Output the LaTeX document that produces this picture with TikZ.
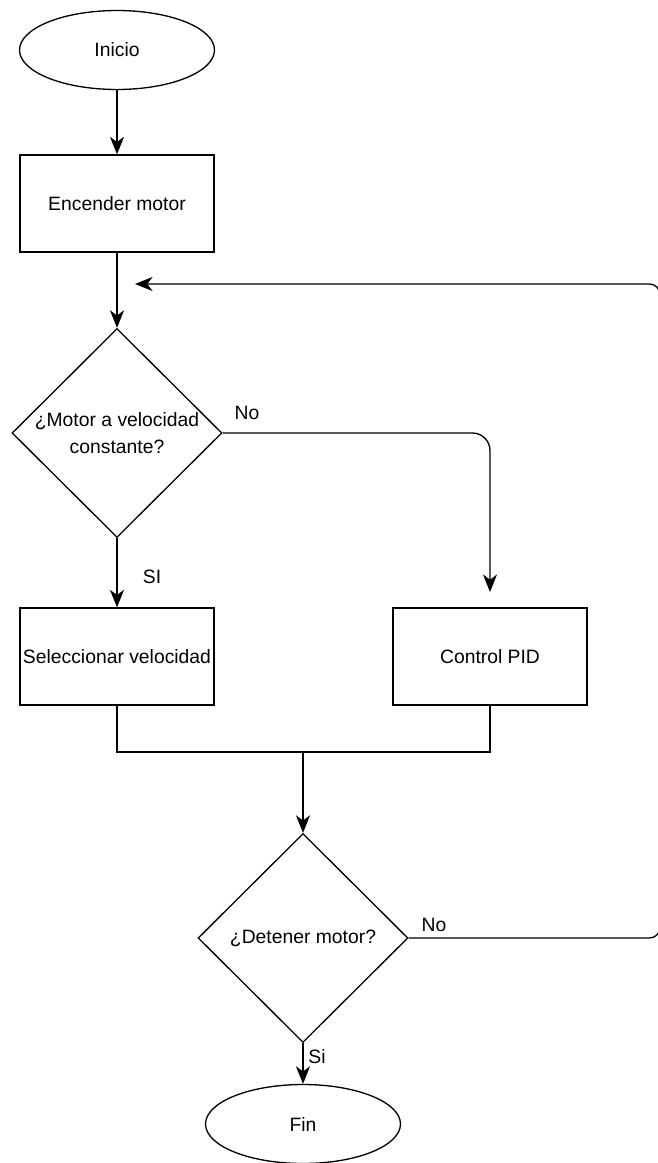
\documentclass[tikz,border=0pt]{standalone}
\usepackage{fontspec}
\setmainfont{Liberation Sans}
\usetikzlibrary{positioning,shapes.geometric,arrows.meta}

\begin{document}
\begin{tikzpicture}[x=0.02cm, y=-0.02cm, line width=0.75pt,
        font=\fontsize{11}{15}\selectfont,
        terminal/.style={ellipse, draw, minimum width=3.9cm, minimum height=1.58cm, inner sep=0pt},
        process/.style={rectangle, draw, minimum width=3.88cm, minimum height=1.94cm, inner sep=0pt},
        decision/.style={diamond, draw, minimum width=4.2cm, minimum height=4.18cm, inner sep=0pt},
        flow/.style={-{Stealth[length=10pt, width=8pt, inset=3pt]}},
        lbl/.style={inner sep=0pt}]
        \useasboundingbox (0, 0) rectangle (657, 1163);

        \node[terminal] (inicio) at (117, 50) {Inicio};
        \node[process] (encender) at (117, 203.5) {Encender motor};
        \node[decision, label={[align=center]center:{¿Motor a velocidad\\constante?}}] (cond1) at (117, 433) {};
        \node[process] (selec) at (117, 656.5) {Seleccionar velocidad};
        \node[process] (pid) at (490, 656.5) {Control PID};
        \node[decision, label={center:¿Detener motor?}] (cond2) at (303, 938) {};
        \node[terminal] (fin) at (303, 1124) {Fin};

        \node[lbl] (no1) at (247, 413) {No};
        \node[lbl] (si1) at (152, 577) {SI};
        \node[lbl] (no2) at (434, 925) {No};
        \node[lbl] (si2) at (317, 1057) {Si};

        \coordinate (pidin) at (490, 592);
        \coordinate (merge) at (303, 752);
        \coordinate (loopin) at (135, 284);
        \coordinate (loopa) at (660, 284);
        \coordinate (loopb) at (660, 938);

        \draw[flow] (inicio.south) -- (encender.north);
        \draw[flow] (encender.south) -- (cond1.north);
        \draw[flow] (cond1.south) -- (selec.north);
        \draw[flow, rounded corners=10] (cond1.east) -| (pidin);
        \draw (selec.south) |- (merge) -| (pid.south);
        \draw[flow] (merge) -- (cond2.north);
        \draw[flow] (cond2.south) -- (fin.north);
        \draw[flow, rounded corners=6] (cond2.east) -- (loopb) -- (loopa) -- (loopin);
    \end{tikzpicture}
\end{document}
